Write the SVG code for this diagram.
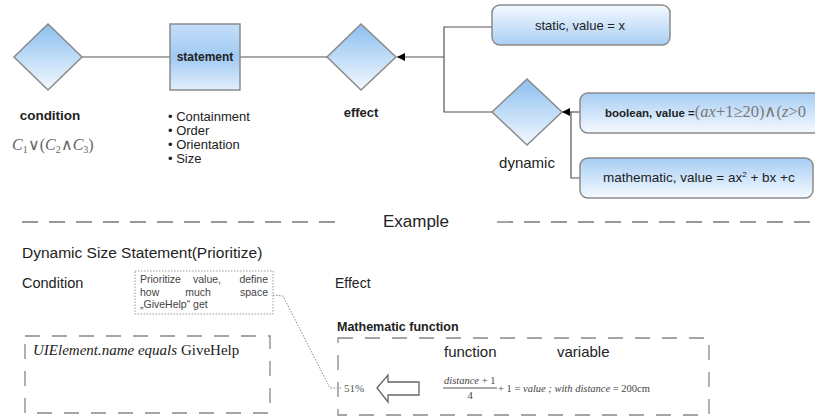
<svg xmlns="http://www.w3.org/2000/svg" width="815" height="416" viewBox="0 0 815 416">
<defs>
<linearGradient id="gDia" x1="0" y1="0" x2="0" y2="1"><stop offset="0" stop-color="#8cbff0"/><stop offset="1" stop-color="#f3f8fe"/></linearGradient>
<linearGradient id="gBox" x1="0" y1="0" x2="0" y2="1"><stop offset="0" stop-color="#a6cdf4"/><stop offset="1" stop-color="#f6faff"/></linearGradient>
<linearGradient id="gBoxR" x1="0" y1="0" x2="0" y2="1"><stop offset="0" stop-color="#f4f9ff"/><stop offset="1" stop-color="#a9cff4"/></linearGradient>
<linearGradient id="gStmt" x1="0" y1="0" x2="0" y2="1"><stop offset="0" stop-color="#c6def8"/><stop offset="0.5" stop-color="#9fc9f3"/><stop offset="1" stop-color="#e3effc"/></linearGradient>
<marker id="arr" viewBox="0 0 10 10" refX="10" refY="5" markerWidth="11" markerHeight="8" markerUnits="userSpaceOnUse" orient="auto"><path d="M0,0 L10,5 L0,10 z" fill="#000"/></marker>
</defs>
<style>
.shape{stroke:#8a8a8a;stroke-width:1.5}
.ln{stroke:#555;stroke-width:1.2;fill:none}
.sans{font-family:"Liberation Sans",Arial,sans-serif;fill:#222}
.serif{font-family:"Liberation Serif","Times New Roman",serif}
.dash{stroke:#777;stroke-width:1.3;stroke-dasharray:16 11;fill:none}
.dashbox{stroke:#888;stroke-width:1.3;stroke-dasharray:15 12;fill:none}
.note{font-family:"Liberation Sans",Arial,sans-serif;fill:#444;font-size:10.5px}
</style>
<rect width="815" height="416" fill="#fff"/>

<g id="connectors">
<line class="ln" x1="82" y1="57" x2="170" y2="57"/>
<line class="ln" x1="240" y1="57" x2="327" y2="57"/>
<polyline class="ln" points="492,27 444,27 444,112 492,112"/>
<line class="ln" x1="444" y1="57" x2="397" y2="57" marker-end="url(#arr)"/>
<polyline class="ln" points="580,178 571,178 571,112"/>
<line class="ln" x1="580" y1="112" x2="562" y2="112" marker-end="url(#arr)"/>
<polyline fill="none" stroke="#888" stroke-width="1" stroke-dasharray="1.5 1.5" points="273,295 283,296 330,388 342,388"/>
</g>

<g id="condition">
<polygon class="shape" fill="url(#gDia)" points="48,24 82,57 48,90 14,57"/>
<text class="sans" x="50" y="120" font-size="13.5" font-weight="bold" text-anchor="middle">condition</text>
<text class="serif" x="12" y="150" font-size="16" fill="#666" font-style="italic">C<tspan font-size="10" dy="3" font-style="normal">1</tspan><tspan dy="-3" font-style="normal">∨(</tspan>C<tspan font-size="10" dy="3" font-style="normal">2</tspan><tspan dy="-3" font-style="normal">∧</tspan>C<tspan font-size="10" dy="3" font-style="normal">3</tspan><tspan dy="-3" font-style="normal">)</tspan></text>
</g>

<g id="statement">
<rect class="shape" x="170" y="24" width="70" height="66" fill="url(#gStmt)"/>
<text class="sans" x="205" y="61" font-size="12" font-weight="bold" text-anchor="middle">statement</text>
<text class="sans" font-size="13"><tspan x="168" y="121">• Containment</tspan><tspan x="168" y="135">• Order</tspan><tspan x="168" y="149">• Orientation</tspan><tspan x="168" y="163">• Size</tspan></text>
</g>

<g id="effect">
<polygon class="shape" fill="url(#gDia)" points="361,24 396,57 361,90 327,57"/>
<text class="sans" x="361" y="117" font-size="13" font-weight="bold" text-anchor="middle">effect</text>
</g>

<g id="static">
<rect class="shape" x="492" y="5" width="178" height="40" rx="8" fill="url(#gBoxR)"/>
<text class="sans" x="535" y="30" font-size="13">static, value = x</text>
</g>

<g id="dynamic">
<polygon class="shape" fill="url(#gDia)" points="527,79 562,112 527,145 492,112"/>
<text class="sans" x="527" y="168" font-size="15" text-anchor="middle">dynamic</text>
</g>

<g id="boolean">
<rect class="shape" x="580" y="93" width="250" height="40" rx="8" fill="url(#gBox)"/>
<text class="sans" x="605" y="117" font-size="11.5" font-weight="bold">boolean, value =<tspan class="serif" font-weight="normal" font-size="16.5" fill="#777">(<tspan font-style="italic">ax</tspan>+1≥20)∧(<tspan font-style="italic">z</tspan>&gt;0</tspan></text>
</g>

<g id="mathematic">
<rect class="shape" x="580" y="158" width="233" height="40" rx="8" fill="url(#gBox)"/>
<text class="sans" x="603" y="182" font-size="13.5">mathematic, value = ax<tspan font-size="8" dy="-5">2</tspan><tspan dy="5"> + bx +c</tspan></text>
</g>

<g id="example-divider">
<line class="dash" x1="22" y1="222" x2="346" y2="222"/>
<text class="sans" x="416" y="227" font-size="17" text-anchor="middle" fill="#333">Example</text>
<line class="dash" x1="497" y1="222" x2="815" y2="222"/>
</g>

<text class="sans" x="22" y="258" font-size="15.5" fill="#333">Dynamic Size Statement(Prioritize)</text>
<text class="sans" x="22" y="288" font-size="14.5" fill="#333">Condition</text>
<text class="sans" x="335" y="288" font-size="14" fill="#333">Effect</text>

<g id="note">
<rect x="135" y="271" width="138" height="43" fill="#fff" stroke="#999" stroke-width="1" stroke-dasharray="1.5 1.5"/>
<text class="note" x="140" y="283">Prioritize</text>
<text class="note" x="207" y="283" text-anchor="middle">value,</text>
<text class="note" x="268" y="283" text-anchor="end">define</text>
<text class="note" x="140" y="295.5">how</text>
<text class="note" x="198" y="295.5" text-anchor="middle">much</text>
<text class="note" x="268" y="295.5" text-anchor="end">space</text>
<text class="note" x="140" y="308">„GiveHelp“ get</text>
</g>

<g id="condition-box">
<rect class="dashbox" x="25" y="336" width="245" height="77"/>
<text class="serif" x="33" y="355" font-size="15" fill="#222"><tspan font-style="italic">UIElement.name equals</tspan> GiveHelp</text>
</g>

<g id="math-function">
<text class="sans" x="337" y="331" font-size="12.5" font-weight="bold" fill="#222">Mathematic function</text>
<rect class="dashbox" x="338" y="338" width="371" height="77"/>
<text class="sans" x="444" y="357" font-size="15" fill="#222">function</text>
<text class="sans" x="557" y="357" font-size="15" fill="#222">variable</text>
<text class="serif" x="344" y="392" font-size="11" fill="#555">51%</text>
<polygon points="377,388 388,375 388,382 419,382 419,395 388,395 388,402" fill="#fff" stroke="#666" stroke-width="1.3"/>
<text class="serif" font-size="10.5" fill="#444" font-style="italic"><tspan x="444" y="384">distance</tspan><tspan font-style="normal"> + 1</tspan></text>
<line x1="443" y1="388" x2="497" y2="388" stroke="#555" stroke-width="1"/>
<text class="serif" x="470" y="399" font-size="10.5" fill="#444" text-anchor="middle">4</text>
<text class="serif" x="498" y="392" font-size="10.5" fill="#444">+ 1 = <tspan font-style="italic">value ; with distance</tspan> = 200cm</text>
</g>
</svg>
